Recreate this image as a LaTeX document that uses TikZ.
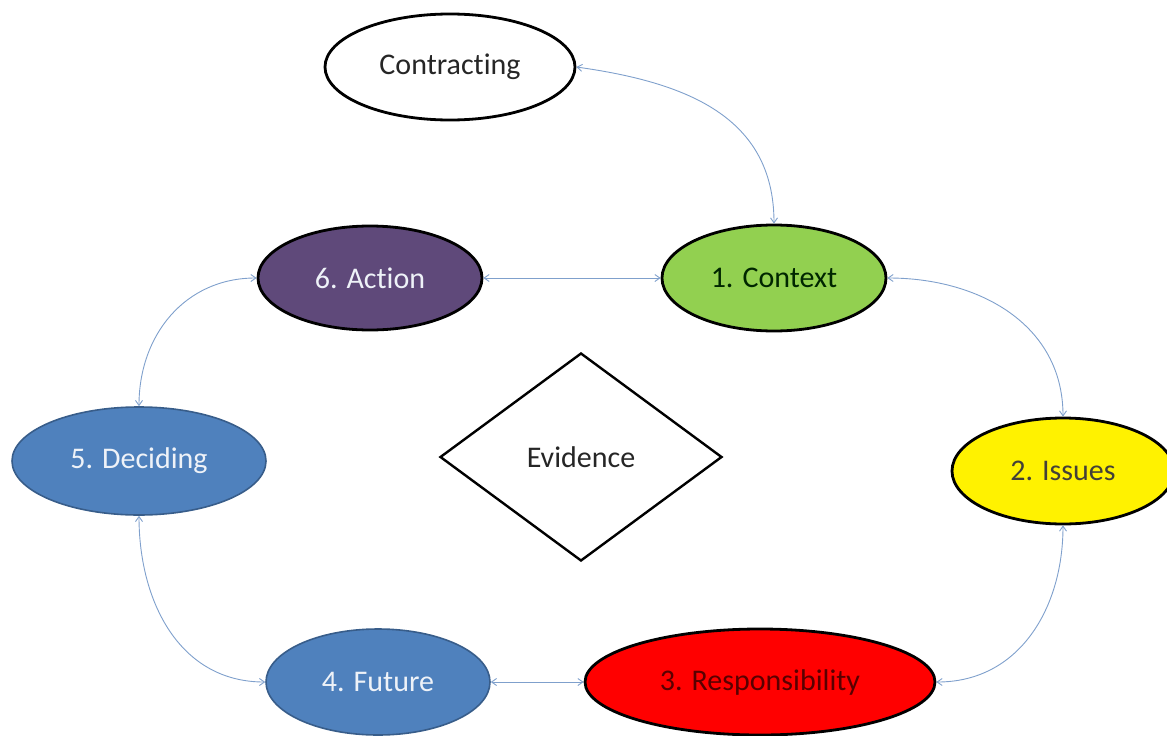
\documentclass[tikz,border=0pt]{standalone}
\usepackage{fontspec}
\setmainfont{Carlito}[Ligatures={NoCommon}]
\usetikzlibrary{shapes.geometric,arrows.meta}
\definecolor{cgreen}{HTML}{92D050}
\definecolor{cpurple}{HTML}{5F497A}
\definecolor{cblue}{HTML}{4F81BD}
\definecolor{cblueb}{HTML}{385D8A}
\definecolor{clink}{HTML}{7FA0CC}
\definecolor{ctext}{HTML}{262626}
\definecolor{clight}{HTML}{EEF2F8}
\begin{document}
\begin{tikzpicture}[x=1pt,y=-1pt,
  every node/.style={font=\fontsize{30}{36}\selectfont},
  oval/.style={ellipse,draw=black,line width=2.8pt,inner sep=0pt},
  blueoval/.style={ellipse,draw=cblueb,line width=1.6pt,fill=cblue,text=clight,inner sep=0pt},
  link/.style={draw=clink,line width=0.9pt,{Straight Barb[length=5pt,width=7pt]}-{Straight Barb[length=5pt,width=7pt]}}
]
\useasboundingbox (0,0) rectangle (1167,736);
\node[oval,fill=white,text=ctext,minimum width=250pt,minimum height=106pt] (contract) at (450,67) {Contracting};
\node[oval,fill=cgreen,text=black!85!green,minimum width=224pt,minimum height=106pt] (context) at (774,278) {1. Context};
\node[oval,fill=cpurple,text=clight,minimum width=224pt,minimum height=104pt] (action) at (370,278) {6. Action};
\node[blueoval,minimum width=254pt,minimum height=108pt] (deciding) at (139,461) {5. Deciding};
\node[diamond,draw=black,line width=2.4pt,fill=white,text=ctext,inner sep=0pt,minimum width=282pt,minimum height=208pt] (evidence) at (581,457) {Evidence};
\node[oval,fill=yellow,text=black!85!yellow,minimum width=222pt,minimum height=106pt] (issues) at (1063,471) {2. Issues};
\node[blueoval,minimum width=224pt,minimum height=106pt] (future) at (378,682) {4. Future};
\node[oval,fill=red,text=black!65!red,minimum width=350pt,minimum height=106pt] (resp) at (760,682) {3. Responsibility};

\draw[link] (contract.east) to[out=-8,in=90,looseness=1.1] (context.north);
\draw[link] (action.east) -- (context.west);
\draw[link] (context.east) to[out=0,in=90,looseness=1.05] (issues.north);
\draw[link] (issues.south) to[out=-90,in=0,looseness=1.05] (resp.east);
\draw[link] (resp.west) -- (future.east);
\draw[link] (future.west) to[out=180,in=-90,looseness=1.05] (deciding.south);
\draw[link] (deciding.north) to[out=90,in=180,looseness=1.05] (action.west);
\end{tikzpicture}
\end{document}
